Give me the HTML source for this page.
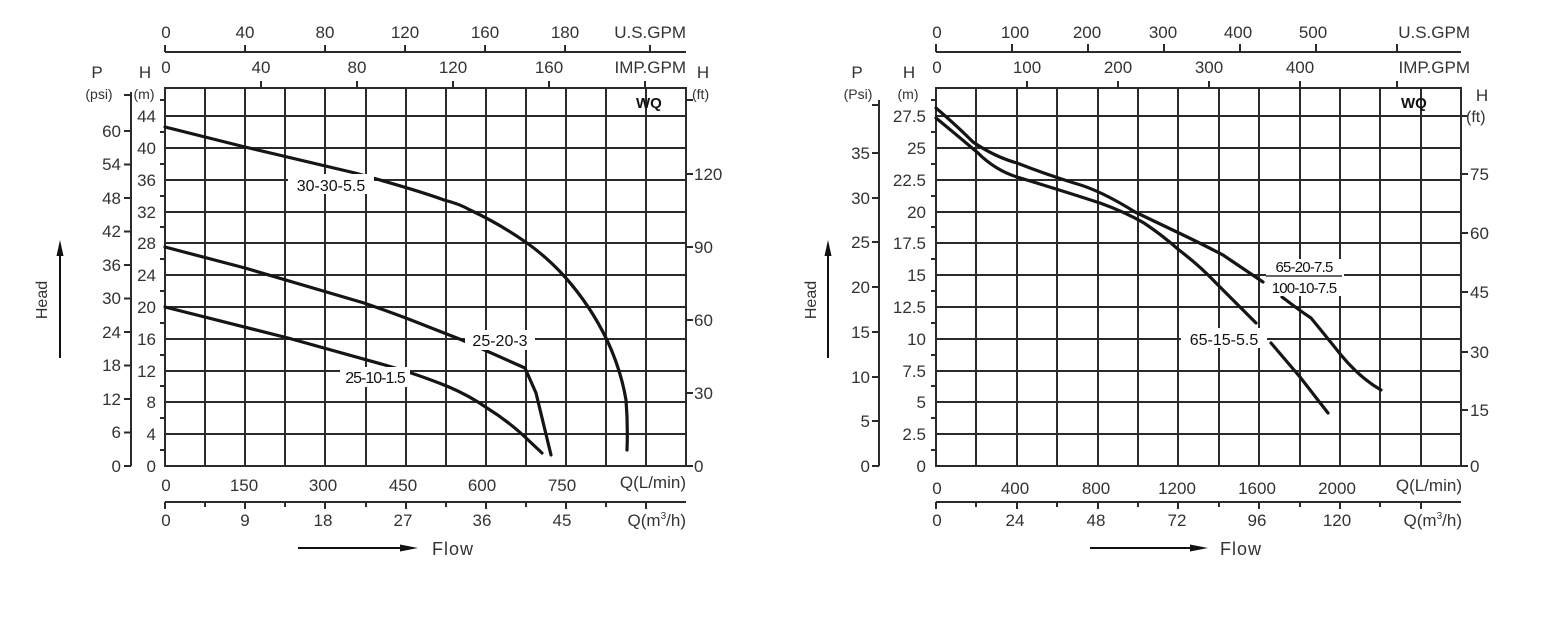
<!DOCTYPE html>
<html><head><meta charset="utf-8"><style>
html,body{margin:0;padding:0;background:#fff;}
svg{display:block;}
text{font-family:"Liberation Sans",sans-serif;fill:#333;font-size:17px;}
.s{font-size:14px;}
.c{font-size:16px;fill:#111;}
</style></head><body>
<svg width="1549" height="630" viewBox="0 0 1549 630" xmlns="http://www.w3.org/2000/svg">
<rect width="1549" height="630" fill="#fff"/>
<!-- ================= LEFT CHART ================= -->
<g stroke="#2a2a2a" stroke-width="2" fill="none">
<rect x="165" y="88" width="521" height="378"/>
<path d="M205 88V466M245 88V466M285 88V466M325 88V466M366 88V466M406 88V466M446 88V466M486 88V466M526 88V466M566 88V466M606 88V466M646 88V466"/>
<path d="M165 434H686M165 402H686M165 371H686M165 339H686M165 307H686M165 275H686M165 243H686M165 212H686M165 180H686M165 148H686M165 116H686"/>
<!-- US GPM axis -->
<path d="M165 52H686M165 45V52M245 45V52M325 45V52M405 45V52M485 45V52M565 45V52M650 45V52"/>
<!-- IMP ticks -->
<path d="M261 81V88M357 81V88M453 81V88M549 81V88M645 81V88"/>
<!-- m3/h axis -->
<path d="M165 502H686M165 502V509M205 502V507M245 502V509M285 502V507M325 502V509M366 502V507M406 502V509M446 502V507M486 502V509M526 502V507M566 502V509M606 502V507M646 502V509"/>
<!-- H minor ticks -->
<path d="M160 450H165M160 418H165M160 386H165M160 355H165M160 323H165M160 291H165M160 259H165M160 227H165M160 196H165M160 164H165M160 132H165M160 100H165"/>
<!-- P axis -->
<path d="M131 92V466M124 466H131M124 432.5H131M124 399H131M124 365.5H131M124 332H131M124 298.5H131M124 265H131M124 231.5H131M124 198H131M124 164.5H131M124 131H131M124 95H131"/>
<!-- ft ticks -->
<path d="M686 466H693M686 393H693M686 320H693M686 247H693M686 174H693M686 100H693"/>
</g>
<g font-size="17">
<text x="166" y="38" text-anchor="middle">0</text><text x="245" y="38" text-anchor="middle">40</text><text x="325" y="38" text-anchor="middle">80</text><text x="405" y="38" text-anchor="middle">120</text><text x="485" y="38" text-anchor="middle">160</text><text x="565" y="38" text-anchor="middle">180</text><text x="686" y="38" text-anchor="end">U.S.GPM</text>
<text x="166" y="73" text-anchor="middle">0</text><text x="261" y="73" text-anchor="middle">40</text><text x="357" y="73" text-anchor="middle">80</text><text x="453" y="73" text-anchor="middle">120</text><text x="549" y="73" text-anchor="middle">160</text><text x="686" y="73" text-anchor="end">IMP.GPM</text>
<text x="97" y="78" text-anchor="middle">P</text><text x="145" y="78" text-anchor="middle">H</text>
<text x="99" y="99" text-anchor="middle" class="s">(psi)</text><text x="144" y="99" text-anchor="middle" class="s">(m)</text>
<text x="703" y="78" text-anchor="middle">H</text><text x="692" y="99" class="s">(ft)</text>
</g>
<g text-anchor="end">
<text x="156" y="472">0</text><text x="156" y="440">4</text><text x="156" y="408">8</text><text x="156" y="377">12</text><text x="156" y="345">16</text><text x="156" y="313">20</text><text x="156" y="281">24</text><text x="156" y="249">28</text><text x="156" y="218">32</text><text x="156" y="186">36</text><text x="156" y="154">40</text><text x="156" y="122">44</text>
<text x="121" y="472">0</text><text x="121" y="438">6</text><text x="121" y="405">12</text><text x="121" y="371">18</text><text x="121" y="338">24</text><text x="121" y="304">30</text><text x="121" y="271">36</text><text x="121" y="237">42</text><text x="121" y="204">48</text><text x="121" y="170">54</text><text x="121" y="137">60</text>
</g>
<g>
<text x="694" y="472">0</text><text x="694" y="399">30</text><text x="694" y="326">60</text><text x="694" y="253">90</text><text x="694" y="180">120</text>
<text x="636" y="108" style="font-weight:bold;font-size:15px;fill:#111">WQ</text>
</g>
<g text-anchor="middle">
<text x="166" y="491">0</text><text x="244" y="491">150</text><text x="323" y="491">300</text><text x="403" y="491">450</text><text x="482" y="491">600</text><text x="562" y="491">750</text>
<text x="166" y="526">0</text><text x="245" y="526">9</text><text x="323" y="526">18</text><text x="403" y="526">27</text><text x="482" y="526">36</text><text x="562" y="526">45</text>
</g>
<text x="686" y="488" text-anchor="end">Q(L/min)</text>
<text x="686" y="526" text-anchor="end">Q(m<tspan font-size="10" dy="-7">3</tspan><tspan dy="7">/h)</tspan></text>
<!-- curves -->
<g stroke="#151515" stroke-width="3.2" fill="none" stroke-linecap="round" stroke-linejoin="round">
<path d="M165 127 L245 147 L355 173 Q420 191 444 200 Q460 204 470 210 Q500 224 527 243 Q548 258 565 277 Q590 305 607 340 Q621 370 626 400 Q628 425 627 450"/>
<path d="M165 247 L245 268 L364 303 Q390 312 411 320 L462 340 L525 368 L536 393 L551 455"/>
<path d="M165 307 L288 338 L385 365 Q420 375 449 387 Q470 396 487 408 Q508 421 525 437 L542 453"/>
</g>
<g class="c">
<rect x="288" y="174" width="86" height="20" fill="#fff"/><text x="331" y="191" text-anchor="middle" class="c">30-30-5.5</text>
<rect x="465" y="330" width="70" height="20" fill="#fff"/><text x="500" y="346" text-anchor="middle" class="c">25-20-3</text>
<rect x="340" y="367" width="70" height="20" fill="#fff"/><text x="375" y="383" text-anchor="middle" class="c" style="letter-spacing:-1px">25-10-1.5</text>
</g>
<!-- flow/head -->
<g stroke="#111" stroke-width="2" fill="#111">
<path d="M298 548H405"/><path d="M418 548L400 544.5V551.5Z" stroke="none"/>
<path d="M60 358V252"/><path d="M60 240L56.5 256H63.5Z" stroke="none"/>
</g>
<text x="432" y="555" style="font-size:18px;letter-spacing:1px">Flow</text>
<text transform="translate(47 300) rotate(-90)" text-anchor="middle" style="font-size:16px">Head</text>

<!-- ================= RIGHT CHART ================= -->
<g stroke="#2a2a2a" stroke-width="2" fill="none">
<rect x="936" y="88" width="525" height="378"/>
<path d="M976 88V466M1017 88V466M1057 88V466M1098 88V466M1138 88V466M1178 88V466M1219 88V466M1259 88V466M1300 88V466M1340 88V466M1380 88V466M1421 88V466"/>
<path d="M936 434H1461M936 402H1461M936 371H1461M936 339H1461M936 307H1461M936 275H1461M936 243H1461M936 212H1461M936 180H1461M936 148H1461M936 116H1461"/>
<path d="M936 52H1461M936 44V52M1012 44V52M1088 44V52M1164 44V52M1240 44V52M1316 44V52M1397 44V52"/>
<path d="M1027 81V88M1118 81V88M1209 81V88M1300 81V88M1397 81V88"/>
<path d="M936 502H1461M936 502V509M976 502V507M1017 502V509M1057 502V507M1098 502V509M1138 502V507M1178 502V509M1219 502V507M1259 502V509M1300 502V507M1340 502V509M1380 502V507M1421 502V509"/>
<path d="M931 450H936M931 418H936M931 386H936M931 355H936M931 323H936M931 291H936M931 259H936M931 227H936M931 196H936M931 164H936M931 132H936M931 100H936"/>
<path d="M879 100V466M872 466H879M872 421H879M872 377H879M872 332H879M872 287H879M872 242H879M872 198H879M872 153H879M872 105H879"/>
<path d="M1461 466H1468M1461 410H1468M1461 352H1468M1461 292H1468M1461 233H1468M1461 174H1468M1461 116H1468"/>
</g>
<g text-anchor="middle">
<text x="937" y="38">0</text><text x="1015" y="38">100</text><text x="1087" y="38">200</text><text x="1163" y="38">300</text><text x="1238" y="38">400</text><text x="1313" y="38">500</text>
<text x="937" y="73">0</text><text x="1027" y="73">100</text><text x="1118" y="73">200</text><text x="1209" y="73">300</text><text x="1300" y="73">400</text>
<text x="857" y="78">P</text><text x="909" y="78">H</text>
<text x="858" y="99" class="s">(Psi)</text><text x="908" y="99" class="s">(m)</text>
<text x="1482" y="101">H</text>
</g>
<text x="1470" y="38" text-anchor="end">U.S.GPM</text>
<text x="1470" y="73" text-anchor="end">IMP.GPM</text>
<text x="1466" y="122" class="s" style="font-size:16px">(ft)</text>
<g text-anchor="end">
<text x="926" y="472">0</text><text x="926" y="440">2.5</text><text x="926" y="408">5</text><text x="926" y="377">7.5</text><text x="926" y="345">10</text><text x="926" y="313">12.5</text><text x="926" y="281">15</text><text x="926" y="249">17.5</text><text x="926" y="218">20</text><text x="926" y="186">22.5</text><text x="926" y="154">25</text><text x="926" y="122">27.5</text>
<text x="870" y="472">0</text><text x="870" y="427">5</text><text x="870" y="383">10</text><text x="870" y="338">15</text><text x="870" y="293">20</text><text x="870" y="248">25</text><text x="870" y="204">30</text><text x="870" y="159">35</text>
</g>
<g>
<text x="1470" y="472">0</text><text x="1470" y="416">15</text><text x="1470" y="358">30</text><text x="1470" y="298">45</text><text x="1470" y="239">60</text><text x="1470" y="180">75</text>
<text x="1401" y="108" style="font-weight:bold;font-size:15px;fill:#111">WQ</text>
</g>
<g text-anchor="middle">
<text x="937" y="494">0</text><text x="1015" y="494">400</text><text x="1096" y="494">800</text><text x="1177" y="494">1200</text><text x="1257" y="494">1600</text><text x="1337" y="494">2000</text>
<text x="937" y="526">0</text><text x="1015" y="526">24</text><text x="1096" y="526">48</text><text x="1177" y="526">72</text><text x="1257" y="526">96</text><text x="1337" y="526">120</text>
</g>
<text x="1462" y="491" text-anchor="end">Q(L/min)</text>
<text x="1462" y="526" text-anchor="end">Q(m<tspan font-size="10" dy="-7">3</tspan><tspan dy="7">/h)</tspan></text>
<g stroke="#151515" stroke-width="3.2" fill="none" stroke-linecap="round" stroke-linejoin="round">
<path d="M936 108 Q955 124 973 142 Q995 157 1017 163 Q1045 174 1074 183 Q1100 190 1135 212 L1179 233 Q1200 243 1223 255 L1263 282 M1282 297 L1298 309 Q1305 314 1311 318 Q1325 335 1341 355 Q1360 378 1381 390"/>
<path d="M936 118 Q958 136 978 153 Q995 170 1017 177 Q1060 190 1100 203 Q1125 212 1144 223 Q1162 235 1179 250 Q1200 266 1216 283 Q1236 303 1256 323 M1271 343 L1300 377 L1328 413"/>
</g>
<rect x="1181" y="328" width="86" height="20" fill="#fff"/><text x="1224" y="345" text-anchor="middle" class="c">65-15-5.5</text>
<rect x="1266" y="259" width="78" height="37" fill="#fff"/>
<path d="M1266 276H1342" stroke="#333" stroke-width="1.5"/>
<text x="1304" y="272" text-anchor="middle" class="c" style="font-size:15px;letter-spacing:-0.8px">65-20-7.5</text>
<text x="1304" y="293" text-anchor="middle" class="c" style="font-size:15px;letter-spacing:-0.8px">100-10-7.5</text>
<g stroke="#111" stroke-width="2" fill="#111">
<path d="M1090 548H1195"/><path d="M1208 548L1190 544.5V551.5Z" stroke="none"/>
<path d="M828 358V252"/><path d="M828 240L824.5 256H831.5Z" stroke="none"/>
</g>
<text x="1220" y="555" style="font-size:18px;letter-spacing:1px">Flow</text>
<text transform="translate(816 300) rotate(-90)" text-anchor="middle" style="font-size:16px">Head</text>
</svg>
</body></html>
